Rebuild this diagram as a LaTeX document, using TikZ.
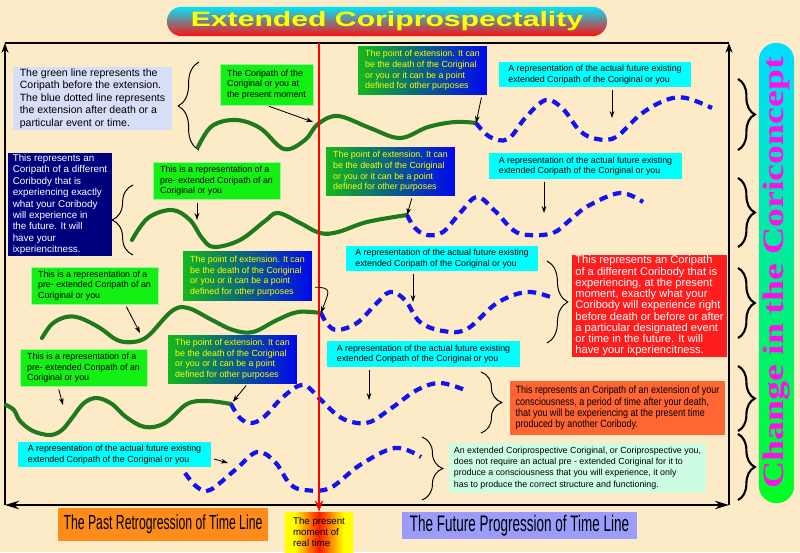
\documentclass[tikz,border=0pt]{standalone}
\usepackage{fontspec}
\setmainfont{Liberation Sans}
\newfontfamily\narrowsans[FakeStretch=0.6]{Liberation Sans}
\newfontfamily\slimsans[FakeStretch=0.85]{Liberation Sans}
\newfontfamily\widesans[FakeStretch=1.45]{Liberation Sans}
\newfontfamily\wideserif[FakeStretch=1.28]{Liberation Serif}
\usetikzlibrary{arrows.meta,positioning,calc,decorations.pathreplacing}
\definecolor{PaperBack}{HTML}{FDEBC8}
\definecolor{PathGreen}{HTML}{1E7A1C}
\definecolor{PathBlue}{HTML}{1212F2}
\definecolor{BoxGreen}{HTML}{14F014}
\definecolor{BoxCyan}{HTML}{00FFFF}
\definecolor{ExtLeft}{HTML}{14B81E}
\definecolor{ExtRight}{HTML}{0008EE}
\definecolor{ExtText}{HTML}{FFFF00}
\definecolor{NoteLav}{HTML}{D7DEF7}
\definecolor{NoteNavy}{HTML}{00007F}
\definecolor{NoteRed}{HTML}{FF1E1E}
\definecolor{NoteOrange}{HTML}{FF6633}
\definecolor{NoteMint}{HTML}{CCFDE3}
\definecolor{PastOrange}{HTML}{FF8C18}
\definecolor{FutureLilac}{HTML}{9C9CFC}
\definecolor{TitleTop}{HTML}{00E4FA}
\definecolor{TitleBottom}{HTML}{FF1010}
\definecolor{ChangeTop}{HTML}{00DDFF}
\definecolor{ChangeBottom}{HTML}{00FF22}
\definecolor{ChangeText}{HTML}{FF10E8}
\definecolor{NowRed}{HTML}{FF0000}
\definecolor{NowYellow}{HTML}{FFFF00}
\pgfdeclarehorizontalshading{nowglow}{100bp}{color(0bp)=(NowYellow);color(32bp)=(NowYellow);color(50bp)=(NowRed!90!NowYellow);color(68bp)=(NowYellow);color(100bp)=(NowYellow)}
\tikzset{>={Stealth[length=5pt,width=3.4pt]},every node/.style={font=\fontsize{6.3}{7.5}\selectfont},
 panel/.style={inner sep=0pt,align=left},
 prebox/.style={panel,fill=BoxGreen,draw=BoxGreen!45!white,line width=.4pt,minimum width=3.17cm,minimum height=.92cm},
 extbox/.style={panel,left color=ExtLeft,right color=ExtRight,text=ExtText,minimum width=3.22cm,minimum height=1.2cm},
 futbox/.style={panel,fill=BoxCyan,minimum width=4.82cm,minimum height=.64cm},
 greenpath/.style={draw=PathGreen,line width=2.9pt,line cap=round},
 bluepath/.style={draw=PathBlue,line width=3pt,dash pattern=on 6pt off 4.2pt}}

\begin{document}
\begin{tikzpicture}[x=.025cm,y=.025cm,
 frameline/.style={line width=.8pt},
 pointer/.style={->,line width=.6pt,shorten <=2pt},
 nowline/.style={NowRed,line width=1.5pt,-{Stealth[length=8pt,width=6pt]}},
 lbrace/.style={decorate,decoration={brace,amplitude=.52cm},line width=.7pt},
 sidebrace/.style={decorate,decoration={brace,amplitude=.42cm},line width=1.5pt}]
\fill[PaperBack] (0,0) rectangle (800,-552);
\useasboundingbox (0,0) rectangle (800,-552);
\node[rounded corners=.36cm,top color=TitleTop,bottom color=TitleBottom,minimum width=11cm,minimum height=.73cm,
 text=ExtText,font=\widesans\bfseries\fontsize{14.8}{16}\selectfont] (title) at (387,-21.5) {Extended Coriprospectality};
\node[rounded corners=.43cm,top color=ChangeTop,bottom color=ChangeBottom,minimum width=.88cm,minimum height=11.5cm] (change) at (776.5,-273) {};
\node[rotate=90,text=ChangeText,font=\wideserif\bfseries\fontsize{21}{23}\selectfont] (changetext) at (change.center) {Change in the Coriconcept};
\coordinate (tl) at (5,-43);\coordinate (tr) at (729,-43);
\coordinate (bl) at (5,-505);\coordinate (br) at (729,-505);
\draw[frameline] (tl)--(tr);
\draw[frameline,-{Stealth[length=7pt,width=5pt]}] (bl)--(tl);
\draw[frameline,-{Stealth[length=7pt,width=5pt]}] (br)--(tr);
\draw[frameline,{Stealth[length=10pt,width=6pt]}-{Stealth[length=10pt,width=6pt]}] (bl)--(br);
\node[panel,fill=NoteLav,minimum width=3.98cm,minimum height=1.58cm,font=\fontsize{7.5}{8.9}\selectfont] (legend) at (92.5,-98.5)
 {The green line represents the\\Coripath before the extension.\\The blue dotted line represents\\the extension after death or a\\particular event or time.};
\node[panel,fill=NoteNavy,text=white,minimum width=2.6cm,minimum height=2.58cm,font=\fontsize{7}{8.1}\selectfont] (otherbody) at (60,-204.5)
 {This represents an\\Coripath of a different\\Coribody that is\\experiencing exactly\\what your Coribody\\will experience in\\the future. It will\\have your\\ixperiencitness.};
\node[panel,fill=NoteRed,text=white,minimum width=3.88cm,minimum height=2.55cm,font=\fontsize{7.9}{8}\selectfont] (presentother) at (649.5,-306)
 {This represents an Coripath\\of a different Coribody that is\\experiencing, at the present\\moment, exactly what your\\Coribody will experience right\\before death or before or after\\a particular designated event\\or time in the future. It will\\have your ixperiencitness.};
\node[panel,fill=NoteOrange,minimum width=5.38cm,minimum height=1.35cm,font=\slimsans\fontsize{7.5}{8.1}\selectfont] (afterdeath) at (617.5,-408)
 {This represents an Coripath of an extension of your\\consciousness, a period of time after your death,\\that you will be experiencing at the present time\\produced by another Coribody.};
\node[panel,fill=NoteMint,minimum width=6.43cm,minimum height=1.25cm,font=\fontsize{6.3}{8}\selectfont] (prospective) at (577.5,-468)
 {An extended Coriprospective Coriginal, or Coriprospective you,\\does not require an actual pre - extended Coriginal for it to\\produce a consciousness that you will experience, it only\\has to produce the correct structure and functioning.};
\node[prebox,minimum width=2.33cm,minimum height=1.03cm] (nowpath) at (266.5,-84.5) {The Coripath of the\\Coriginal or you at\\the present moment};
\foreach \nm/\x/\y in {pre2/216.5/-181,pre3/94.5/-285.5,pre4/83.5/-368}
 \node[prebox] (\nm) at (\x,\y) {This is a representation of a\\pre- extended Coripath of an\\Coriginal or you};
\foreach \nm/\x/\y in {ext1/422.5/-70.5,ext2/390.5/-171.5,ext3/247.5/-276,ext4/232.5/-359}
 \node[extbox] (\nm) at (\x,\y) {The point of extension. It can\\be the death of the Coriginal\\or you or it can be a point\\defined for other purposes};
\foreach \nm/\x/\y in {fut1/595/-74.5,fut2/585.5/-166,fut3/442/-258.5,fut4/423.5/-354,fut5/114.5/-454.5}
 \node[futbox] (\nm) at (\x,\y) {A representation of the actual future existing\\extended Coripath of the Coriginal or you};
\node[fill=PastOrange,minimum width=5.25cm,minimum height=.83cm,inner sep=0pt,font=\narrowsans\fontsize{14.5}{16}\selectfont] (past) at (163,-524.5) {The Past Retrogression of Time Line};
\node[panel,shade,shading=nowglow,minimum width=1.7cm,minimum height=1cm,font=\fontsize{6.9}{8}\selectfont] (present) at (319,-532) {The present\\moment of\\real time};
\node[fill=FutureLilac,minimum width=5.88cm,minimum height=.68cm,inner sep=0pt,font=\narrowsans\fontsize{16}{17}\selectfont] (future) at (519.5,-525.5) {The Future Progression of Time Line};
\draw[lbrace] (199,-150)--(199,-62);
\draw[lbrace] (133,-255)--(133,-185);
\draw[lbrace] (547,-261)--(547,-343);
\draw[lbrace] (481,-372)--(481,-433);
\draw[lbrace] (422,-437)--(422,-500);
\foreach \a/\b in {79/150,178/247,268/338,366/431,434/500}
 \draw[sidebrace] (738,-\a)--(738,-\b);
\coordinate (xp1) at (476,-123);\coordinate (xp2) at (407,-215);
\coordinate (xp3) at (321,-313);\coordinate (xp4) at (231,-404);
\draw[greenpath] plot[smooth,tension=.6] coordinates {(198,-147) (212,-126) (236,-120) (260,-128) (284,-149) (305,-140) (318,-124) (338,-116) (370,-128) (400,-138) (428,-127) (455,-122) (xp1)};
\draw[bluepath] plot[smooth,tension=.6] coordinates {(xp1) (490,-137) (508,-139) (526,-117) (546,-100) (563,-109) (580,-131) (597,-139) (616,-137) (641,-114) (666,-100) (686,-98) (712,-108)};
\draw[greenpath] plot[smooth,tension=.6] coordinates {(132,-240) (148,-218) (172,-210) (190,-220) (202,-238) (214,-247) (240,-240) (265,-221) (278,-213) (300,-223) (320,-233) (338,-232) (367,-222) (xp2)};
\draw[bluepath] plot[smooth,tension=.6] coordinates {(xp2) (415,-228) (427,-235) (443,-232) (460,-213) (477,-197) (495,-211) (513,-230) (528,-235) (553,-233) (570,-220) (588,-206) (620,-193) (643,-202)};
\draw[greenpath] plot[smooth,tension=.6] coordinates {(42,-338) (52,-324) (66,-317) (80,-318) (100,-328) (117,-340) (133,-342) (148,-336) (172,-311) (188,-308) (212,-320) (233,-330) (253,-332) (277,-320) (298,-312) (xp3)};
\draw[bluepath] plot[smooth,tension=.6] coordinates {(xp3) (328,-325) (338,-330) (357,-323) (375,-305) (390,-292) (405,-300) (420,-322) (443,-331) (467,-329) (497,-303) (527,-292) (553,-298)};
\draw[greenpath] plot[smooth,tension=.6] coordinates {(6,-405) (14,-410) (20,-421) (33,-431) (50,-435) (62,-430) (72,-418) (84,-403) (97,-398) (112,-404) (126,-417) (145,-427) (165,-423) (187,-404) (207,-401) (xp4)};
\draw[bluepath] plot[smooth,tension=.6] coordinates {(xp4) (240,-418) (251,-423) (264,-417) (283,-397) (303,-385) (320,-399) (337,-415) (352,-422) (370,-422) (393,-407) (417,-390) (440,-383) (465,-390)};
\draw[bluepath] plot[smooth,tension=.6] coordinates {(185,-473) (197,-487) (210,-490) (235,-470) (257,-452) (275,-462) (290,-484) (305,-490) (330,-488) (360,-465) (395,-448) (421,-457)};
\coordinate (nowtop) at (319,-43);
\draw[nowline] (nowtop)--(present.north);
\coordinate (gA) at (313,-122);\coordinate (gB) at (197,-220);
\coordinate (gC) at (140,-333);\coordinate (gD) at (63,-405);
\coordinate (cA) at (612,-118);\coordinate (cB) at (544,-213);
\coordinate (cC) at (413,-302);\coordinate (cD) at (369,-400);
\coordinate (cE) at (228,-463);
\draw[pointer] (nowpath.south)--(gA);
\draw[pointer] ($(ext1.south west)!.96!(ext1.south east)$)--(xp1);
\draw[pointer] (fut1.south -| cA)--(cA);
\draw[pointer] (pre2.south -| gB)--(gB);
\draw[pointer] ($(ext2.south west)!.67!(ext2.south east)$)--(xp2);
\draw[pointer] (fut2.south -| cB)--(cB);
\draw[pointer] ($(pre3.south west)!.74!(pre3.south east)$)--(gC);
\draw[pointer] ($(ext3.north east)!.73!(ext3.south east)$) to[out=0,in=70,looseness=2] (xp3);
\draw[pointer] (fut3.south -| cC)--(cC);
\draw[pointer] ($(pre4.south west)!.3!(pre4.south east)$)--(gD);
\draw[pointer,shorten >=2pt] ($(ext4.south west)!.62!(ext4.south east)$)--(xp4);
\draw[pointer] (fut4.south -| cD)--(cD);
\draw[pointer] ($(fut5.north east)!.64!(fut5.south east)$)--(cE);
\end{tikzpicture}
\end{document}
